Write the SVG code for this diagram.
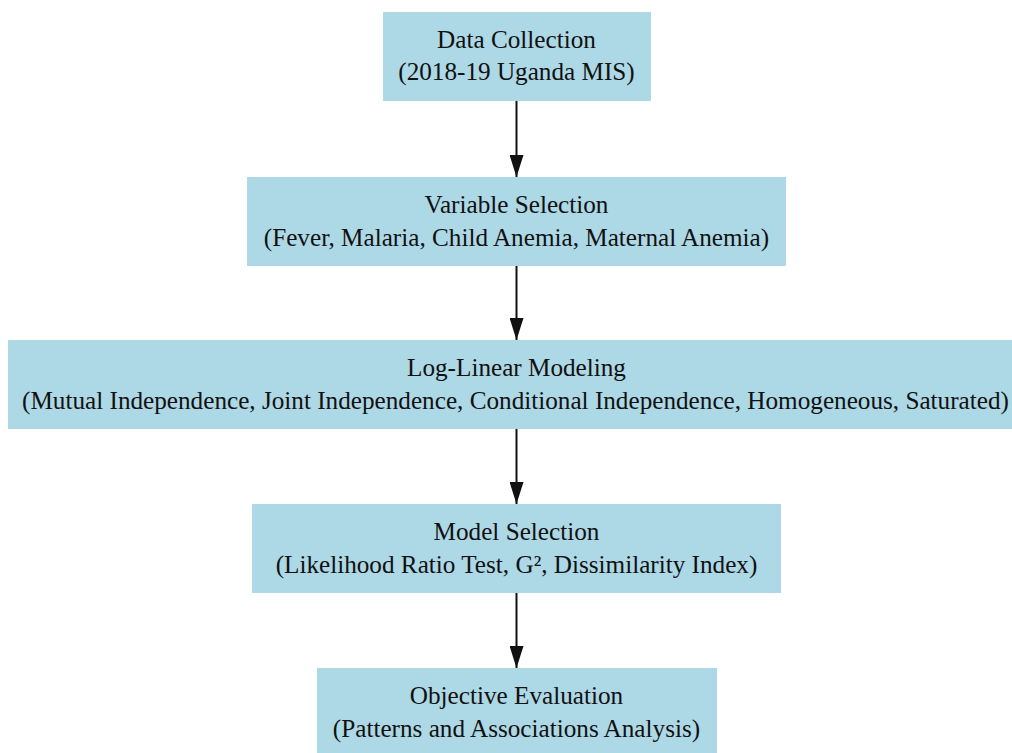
<svg xmlns="http://www.w3.org/2000/svg" width="1012" height="753" viewBox="0 0 1012 753">
<defs>
<style>
.box{fill:#ADD8E6;stroke:none}
.t{font-size:25.2px;fill:#111;text-anchor:middle}
.edge{stroke:#111;stroke-width:2;fill:none}
</style>
<marker id="ah" markerWidth="22" markerHeight="14" refX="22" refY="7" orient="auto" markerUnits="userSpaceOnUse" viewBox="0 0 22 14">
<path d="M0,0 L22,7 L0,14 Z" fill="#111"/>
</marker>
</defs>
<rect width="1012" height="753" fill="#fff"/>
<g id="connectors">
<line class="edge" x1="516.5" y1="101" x2="516.5" y2="177" marker-end="url(#ah)"/>
<line class="edge" x1="516.5" y1="266" x2="516.5" y2="340" marker-end="url(#ah)"/>
<line class="edge" x1="516.5" y1="429" x2="516.5" y2="504" marker-end="url(#ah)"/>
<line class="edge" x1="516.5" y1="593" x2="516.5" y2="668" marker-end="url(#ah)"/>
</g>
<g font-family="Liberation Serif, DejaVu Serif, Times New Roman, serif">
<g id="n1">
<rect class="box" x="383" y="12" width="268" height="89"/>
<text class="t" x="516.5" y="48">Data Collection</text>
<text class="t" x="516.5" y="80">(2018-19 Uganda MIS)</text>
</g>
<g id="n2">
<rect class="box" x="247" y="177" width="539" height="89"/>
<text class="t" x="516.5" y="213">Variable Selection</text>
<text class="t" x="516.5" y="246">(Fever, Malaria, Child Anemia, Maternal Anemia)</text>
</g>
<g id="n3">
<rect class="box" x="8" y="340" width="1010" height="89"/>
<text class="t" x="516.5" y="376">Log-Linear Modeling</text>
<text class="t" x="515.5" y="409">(Mutual Independence, Joint Independence, Conditional Independence, Homogeneous, Saturated)</text>
</g>
<g id="n4">
<rect class="box" x="252" y="504" width="529" height="89"/>
<text class="t" x="516.5" y="540">Model Selection</text>
<text class="t" x="516.5" y="573">(Likelihood Ratio Test, G², Dissimilarity Index)</text>
</g>
<g id="n5">
<rect class="box" x="317" y="668" width="400" height="89"/>
<text class="t" x="516.5" y="704">Objective Evaluation</text>
<text class="t" x="516.5" y="737">(Patterns and Associations Analysis)</text>
</g>
</g>
</svg>
